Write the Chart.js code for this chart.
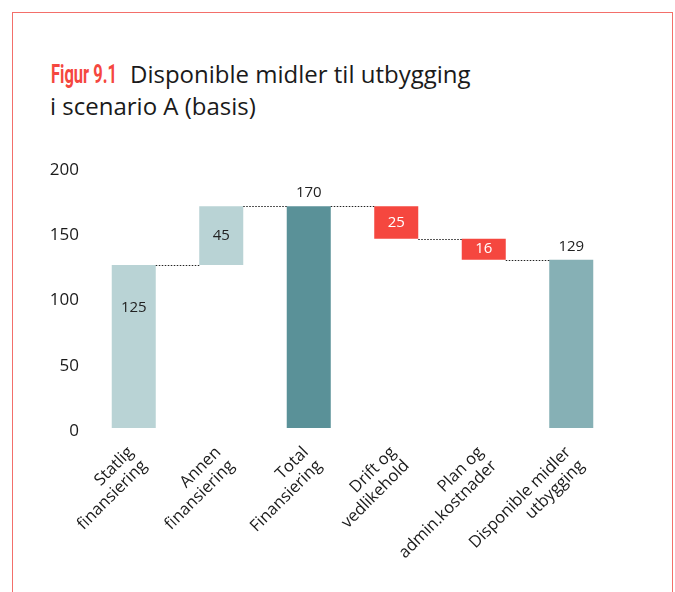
<!DOCTYPE html>
<html>
<head>
<meta charset="utf-8">
<script src="https://cdn.jsdelivr.net/npm/chart.js@4"></script>
<style>
  html, body { margin: 0; padding: 0; background: #fff; }
  body { width: 675px; height: 592px; position: relative; overflow: hidden; font-family: "Open Sans", sans-serif; }
  .frame { position: absolute; left: 12px; top: 12px; width: 659px; height: 620px; border: 1.5px solid #f36f6a; }
  .fig { position: absolute; left: 51px; top: 59px; font-family: "Liberation Sans Narrow", "Roboto", sans-serif; font-weight: bold; font-size: 25px; line-height: 32px; color: #f5473f; transform: scaleX(0.66); transform-origin: left top; white-space: nowrap; }
  .title { position: absolute; left: 50px; top: 58px; font-size: 24px; line-height: 32px; color: #1a1a1a; white-space: nowrap; }
  .title .first { margin-left: 80px; display: inline-block; }
  #chart { position: absolute; left: 0; top: 150px; }
</style>
</head>
<body>
<div class="frame"></div>
<div class="fig">Figur 9.1</div>
<div class="title"><span class="first">Disponible midler til utbygging</span><br>i scenario A (basis)</div>
<canvas id="chart" width="675" height="442"></canvas>
<script>
// Waterfall: steps add or subtract, totals start from zero
const categories = [
    ['Statlig', 'finansiering'],
    ['Annen', 'finansiering'],
    ['Total', 'Finansiering'],
    ['Drift og', 'vedlikehold'],
    ['Plan og', 'admin.kostnader'],
    ['Disponible midler', 'utbygging']
];
const values = [125, 45, 170, -25, -16, 129];
const isTotal = [false, false, true, false, false, true];
const barColors = ['#b9d3d5', '#b9d3d5', '#5a9198', '#f5473f', '#f5473f', '#86b0b5'];
const yTicks = [0, 50, 100, 150, 200];

// build floating ranges from the running total
let running = 0;
const ranges = values.map((v, i) => {
    if (isTotal[i]) {
        running = v;
        return [0, v];
    }
    const start = running;
    running += v;
    return [Math.min(start, running), Math.max(start, running)];
});
const levels = ranges.map((r, i) => isTotal[i] ? r[1] : (values[i] >= 0 ? r[1] : r[0]));

const waterfallExtras = {
    id: 'waterfallExtras',
    afterDatasetsDraw(chart) {
        const ctx = chart.ctx;
        const meta = chart.getDatasetMeta(0);
        const y = chart.scales.y;
        ctx.save();

        // dotted connectors between neighbouring bars
        ctx.strokeStyle = '#222';
        ctx.lineWidth = 1.2;
        ctx.setLineDash([1.5, 1.5]);
        for (let i = 0; i < meta.data.length - 1; i++) {
            const a = meta.data[i], b = meta.data[i + 1];
            const py = Math.round(y.getPixelForValue(levels[i])) + 0.5;
            ctx.beginPath();
            ctx.moveTo(a.x + a.width / 2, py);
            ctx.lineTo(b.x - b.width / 2, py);
            ctx.stroke();
        }
        ctx.setLineDash([]);

        // value labels
        ctx.font = '15px "Open Sans", sans-serif';
        ctx.textAlign = 'center';
        ctx.textBaseline = 'middle';
        meta.data.forEach((bar, i) => {
            const label = String(Math.abs(values[i]));
            const top = y.getPixelForValue(ranges[i][1]);
            const bottom = y.getPixelForValue(ranges[i][0]);
            if (isTotal[i]) {
                ctx.fillStyle = '#222';
                ctx.fillText(label, bar.x, top - 13);
            } else {
                ctx.fillStyle = values[i] < 0 ? '#fff' : '#222';
                const py = Math.min(top + 43, (top + bottom) / 2);
                ctx.fillText(label, bar.x, py);
            }
        });
        ctx.restore();
    }
};

new Chart(document.getElementById('chart').getContext('2d'), {
    type: 'bar',
    data: {
        labels: categories,
        datasets: [{
            data: ranges,
            backgroundColor: barColors,
            borderWidth: 0,
            barPercentage: 0.503,
            categoryPercentage: 1
        }]
    },
    options: {
        responsive: false,
        animation: false,
        events: [],
        layout: { padding: { top: 17, right: 60, left: 0, bottom: 0 } },
        plugins: {
            legend: { display: false },
            tooltip: { enabled: false }
        },
        scales: {
            y: {
                min: 0,
                max: 200,
                afterFit: (scale) => { scale.width = 90; },
                afterBuildTicks: (scale) => { scale.ticks = yTicks.map(v => ({ value: v })); },
                grid: { display: false },
                border: { display: false },
                ticks: {
                    color: '#1a1a1a',
                    font: { family: 'Open Sans', size: 17 },
                    padding: 3,
                    labelOffset: 3
                }
            },
            x: {
                afterFit: (scale) => { scale.height = 164; },
                grid: { display: false },
                border: { display: false },
                ticks: {
                    color: '#1a1a1a',
                    font: { family: 'Open Sans', size: 16.5, lineHeight: 1.15 },
                    minRotation: 45,
                    maxRotation: 45,
                    autoSkip: false,
                    padding: 7,
                    labelOffset: -3
                }
            }
        }
    },
    plugins: [waterfallExtras]
});
</script>
</body>
</html>
